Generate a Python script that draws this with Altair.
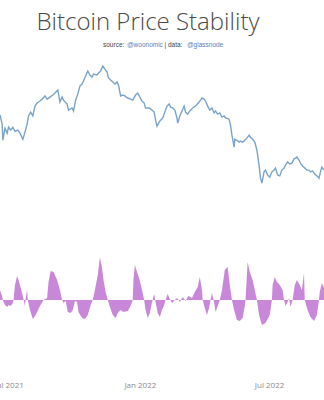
import altair as alt
import pandas as pd

# ---- data ----
price_dates = ["2021-06-19","2021-06-22","2021-06-23","2021-06-26","2021-06-29","2021-07-01","2021-07-04","2021-07-07","2021-07-10","2021-07-14","2021-07-17","2021-07-21","2021-07-24","2021-07-27","2021-07-29","2021-08-01","2021-08-04","2021-08-07","2021-08-10","2021-08-14","2021-08-17","2021-08-21","2021-08-24","2021-08-28","2021-09-01","2021-09-04","2021-09-08","2021-09-11","2021-09-14","2021-09-16","2021-09-21","2021-09-23","2021-09-28","2021-09-30","2021-10-03","2021-10-06","2021-10-09","2021-10-12","2021-10-14","2021-10-17","2021-10-20","2021-10-23","2021-10-26","2021-10-28","2021-11-02","2021-11-04","2021-11-07","2021-11-10","2021-11-13","2021-11-16","2021-11-18","2021-11-21","2021-11-24","2021-11-27","2021-11-30","2021-12-02","2021-12-05","2021-12-08","2021-12-11","2021-12-15","2021-12-19","2021-12-22","2021-12-26","2021-12-29","2022-01-01","2022-01-04","2022-01-07","2022-01-09","2022-01-14","2022-01-18","2022-01-21","2022-01-23","2022-01-25","2022-01-28","2022-01-30","2022-02-02","2022-02-05","2022-02-08","2022-02-11","2022-02-13","2022-02-16","2022-02-19","2022-02-22","2022-02-23","2022-02-26","2022-03-01","2022-03-04","2022-03-06","2022-03-09","2022-03-12","2022-03-16","2022-03-20","2022-03-25","2022-03-29","2022-04-01","2022-04-03","2022-04-06","2022-04-09","2022-04-12","2022-04-15","2022-04-17","2022-04-20","2022-04-23","2022-04-26","2022-04-29","2022-05-01","2022-05-06","2022-05-08","2022-05-10","2022-05-13","2022-05-14","2022-05-17","2022-05-20","2022-05-22","2022-05-25","2022-05-28","2022-05-31","2022-06-03","2022-06-05","2022-06-08","2022-06-11","2022-06-14","2022-06-17","2022-06-19","2022-06-21","2022-06-24","2022-06-26","2022-06-29","2022-07-02","2022-07-05","2022-07-08","2022-07-10","2022-07-13","2022-07-16","2022-07-19","2022-07-22","2022-07-24","2022-07-27","2022-07-30","2022-08-02","2022-08-05","2022-08-07","2022-08-09","2022-08-12","2022-08-14","2022-08-17","2022-08-20","2022-08-23","2022-08-26","2022-08-28","2022-08-31","2022-09-03","2022-09-06","2022-09-09","2022-09-11","2022-09-13","2022-09-16"]
price_k = [38.3,34.5,28.7,32.9,31.1,33.3,32.2,33.3,31.8,32.2,31.1,29.0,31.5,34.5,37.9,39.6,37.9,42.4,43.9,44.9,45.9,47.6,45.9,47.0,48.1,49.2,50.9,44.4,47.0,45.4,43.4,40.5,41.5,40.1,45.4,48.6,53.3,54.5,56.5,59.8,63.3,60.5,59.1,61.2,60.5,61.9,63.3,67.0,64.7,62.6,58.5,57.1,55.8,54.5,55.8,53.9,47.6,48.1,47.6,46.5,45.9,45.4,48.1,49.2,47.0,44.9,43.9,41.5,41.5,40.5,39.6,36.1,33.7,35.3,36.1,37.0,39.6,42.4,43.4,41.9,41.5,40.5,37.0,34.9,37.9,40.1,42.4,39.6,38.7,40.1,41.5,42.4,44.4,46.5,45.9,44.9,42.4,40.5,41.5,39.2,40.1,38.7,39.2,37.4,37.9,37.0,36.5,34.1,30.4,26.5,29.0,28.7,28.1,28.4,28.1,28.7,29.4,30.4,29.7,29.0,28.1,25.6,21.6,18.6,17.6,20.0,20.4,19.3,18.8,20.0,20.4,20.9,19.3,19.1,20.4,20.9,21.6,22.4,21.9,22.1,23.2,23.4,23.7,22.9,22.1,21.4,20.9,20.4,20.4,20.0,20.2,19.5,19.1,18.6,20.0,21.1,20.4]

stab_dates = ["2021-06-19","2021-06-22","2021-06-23","2021-06-26","2021-06-29","2021-07-01","2021-07-04","2021-07-07","2021-07-08","2021-07-10","2021-07-13","2021-07-15","2021-07-18","2021-07-21","2021-07-24","2021-07-25","2021-07-27","2021-07-28","2021-07-31","2021-08-04","2021-08-08","2021-08-14","2021-08-19","2021-08-24","2021-08-26","2021-08-29","2021-09-02","2021-09-07","2021-09-11","2021-09-14","2021-09-16","2021-09-19","2021-09-22","2021-09-26","2021-09-29","2021-10-02","2021-10-05","2021-10-07","2021-10-12","2021-10-16","2021-10-20","2021-10-24","2021-10-27","2021-10-30","2021-11-03","2021-11-06","2021-11-09","2021-11-11","2021-11-14","2021-11-17","2021-11-20","2021-11-24","2021-11-28","2021-12-01","2021-12-05","2021-12-09","2021-12-15","2021-12-19","2021-12-22","2021-12-23","2021-12-25","2021-12-28","2022-01-01","2022-01-04","2022-01-07","2022-01-09","2022-01-12","2022-01-15","2022-01-18","2022-01-21","2022-01-23","2022-01-26","2022-01-29","2022-02-01","2022-02-04","2022-02-06","2022-02-09","2022-02-12","2022-02-15","2022-02-19","2022-02-22","2022-02-26","2022-03-02","2022-03-06","2022-03-10","2022-03-15","2022-03-19","2022-03-23","2022-03-26","2022-03-29","2022-03-30","2022-04-02","2022-04-05","2022-04-08","2022-04-10","2022-04-12","2022-04-15","2022-04-17","2022-04-20","2022-04-23","2022-04-26","2022-04-30","2022-05-04","2022-05-07","2022-05-10","2022-05-13","2022-05-17","2022-05-21","2022-05-25","2022-05-28","2022-05-29","2022-06-01","2022-06-04","2022-06-08","2022-06-11","2022-06-14","2022-06-17","2022-06-21","2022-06-26","2022-07-02","2022-07-05","2022-07-06","2022-07-09","2022-07-12","2022-07-16","2022-07-20","2022-07-22","2022-07-24","2022-07-27","2022-07-29","2022-07-31","2022-08-03","2022-08-06","2022-08-09","2022-08-13","2022-08-16","2022-08-19","2022-08-20","2022-08-24","2022-08-28","2022-09-02","2022-09-06","2022-09-09","2022-09-10","2022-09-13","2022-09-16"]
stab_values = [10,4,0,-5,-7,-5,-6,-3,0,15,24,20,12,4,-6,2,10,0,-10,-19,-15,-6,0,2,18,29,28,20,10,0,-3,-1,-12,-13,-10,-1,-2,-12,-18,-19,-15,-5,0,10,25,43,32,20,8,0,-7,-15,-18,-13,-10,-12,-11,-6,0,20,35,28,19,10,0,-10,-18,-13,-2,6,-2,-13,-17,-10,-5,0,6,1,-3,0,2,-2,3,-1,4,2,8,13,23,10,0,-8,-15,-8,0,7,-2,-12,-6,0,10,30,33,15,0,-10,-20,-21,-18,-6,0,38,28,20,10,0,-15,-25,-23,-15,0,15,23,18,15,10,0,-6,-2,2,-7,0,15,20,15,10,27,0,-10,-17,-21,-15,0,8,17,12]

tick_dates = ["2021-07-01", "2022-01-01", "2022-07-01"]
title_text = "Bitcoin Price Stability"
sub_parts = ["source:", "@woonomic", "| data:", "@glassnode"]

price_df = pd.DataFrame({"date": price_dates, "price": price_k})
stab_df = pd.DataFrame({"date": stab_dates, "value": stab_values})

x_scale = alt.Scale(type="utc",
                    domain=[alt.DateTime(year=2021, month=6, date=19, utc=True),
                            alt.DateTime(year=2022, month=9, date=16, utc=True)])
x_axis = alt.Axis(values=[alt.DateTime(year=int(d[:4]), month=int(d[5:7]), date=1, utc=True) for d in tick_dates],
                  labelExpr="utcFormat(datum.value, '%b %Y')",
                  domain=False, ticks=False, grid=False, title=None,
                  labelFont="Open Sans", labelFontSize=8, labelColor="#8a8a8a",
                  labelPadding=1, labelFlush=False, labelOverlap=False)

area = alt.Chart(stab_df).mark_area(color="#c987d9", opacity=1, interpolate="linear").encode(
    x=alt.X("date:T", scale=x_scale, axis=x_axis),
    y=alt.Y("value:Q", scale=alt.Scale(domain=[-25, 45], range=[325, 255], zero=False), axis=None),
    y2=alt.datum(0),
)

line = alt.Chart(price_df).mark_line(color="#7aa3c8", strokeWidth=1.4).encode(
    x=alt.X("date:T", scale=x_scale, axis=x_axis),
    y=alt.Y("price:Q", scale=alt.Scale(type="log", domain=[10, 100], range=[232.5, 31]), axis=None),
)

title = alt.Chart(pd.DataFrame({"t": [title_text]})).mark_text(
    font="Open Sans", fontSize=24, fontWeight=300, color="#4a4a4a", align="center", baseline="alphabetic"
).encode(text="t:N", x=alt.value(148), y=alt.value(30))

def sub(txt, xpos, col):
    return alt.Chart(pd.DataFrame({"t": [txt]})).mark_text(
        font="Liberation Sans", fontSize=6.5, color=col, align="left", baseline="alphabetic"
    ).encode(text="t:N", x=alt.value(xpos), y=alt.value(47))

subs = [sub(sub_parts[0], 103, "#444444"), sub(sub_parts[1], 127, "#5a7fb8"),
        sub(sub_parts[2], 164.5, "#444444"), sub(sub_parts[3], 187, "#5a7fb8")]

chart = alt.layer(area, line, title, *subs).resolve_scale(y="independent").properties(
    width=324, height=380,
    background="white",
    autosize=alt.AutoSizeParams(type="none"),
    padding={"left": 0, "top": 0, "right": 0, "bottom": 20},
).configure_view(strokeWidth=0, stroke=None)

chart.save("out.html", embed_options={"renderer": "svg", "actions": False})
